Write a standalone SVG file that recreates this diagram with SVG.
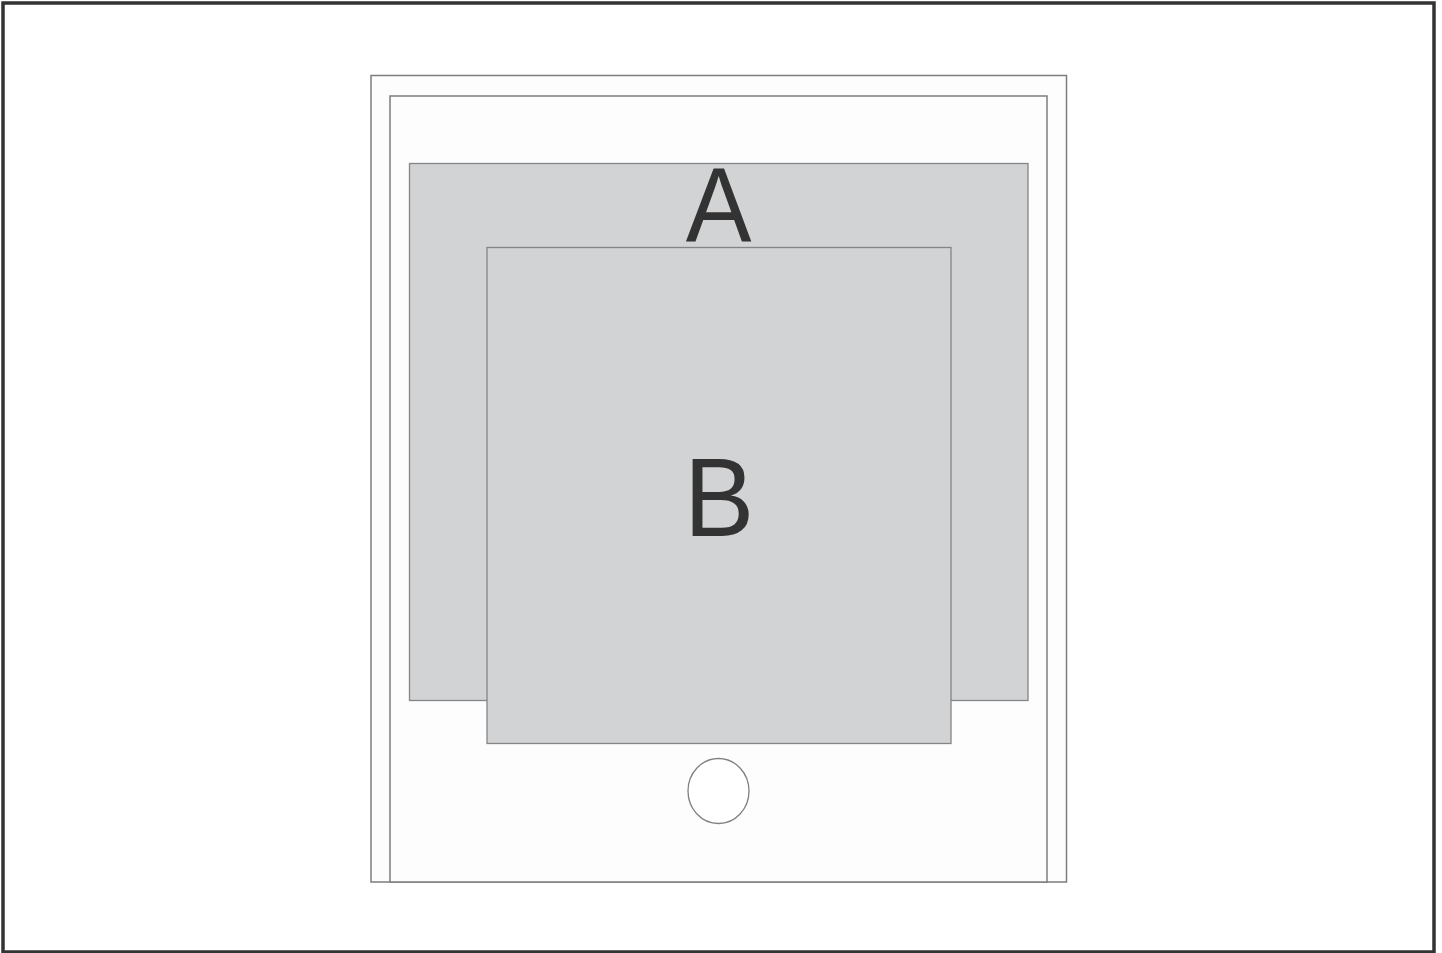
<svg xmlns="http://www.w3.org/2000/svg" width="1442" height="953" viewBox="0 0 1442 953">
<style>
.frame{fill:#fdfdfd;stroke:#7d7d7d;stroke-width:1.5}
.box{fill:#d1d3d4;stroke:#858585;stroke-width:1.3}
.lbl{font-family:"Liberation Sans",Arial,sans-serif;fill:#333333;text-anchor:middle}
</style>
<rect x="0" y="0" width="1442" height="953" fill="#ffffff"/>
<rect x="3" y="3" width="1431" height="949" fill="none" stroke="#333333" stroke-width="3.5"/>
<g id="outer-frame"><rect class="frame" x="371" y="75.5" width="695.5" height="806.5"/></g>
<g id="inner-frame"><rect class="frame" x="390" y="96" width="657" height="786"/></g>
<g id="node-A">
<rect class="box" x="409.5" y="163.5" width="618.5" height="537"/>
<text class="lbl" transform="translate(718.5 241) scale(0.93 1)" x="0" y="0" font-size="106">A</text>
</g>
<g id="node-B">
<rect class="box" x="487" y="247.5" width="464" height="496"/>
<text class="lbl" transform="translate(719 536) scale(0.94 1)" x="0" y="0" font-size="112">B</text>
</g>
<g id="button"><ellipse cx="718.5" cy="791" rx="30.5" ry="32.5" fill="#ffffff" stroke="#808080" stroke-width="1.3"/></g>
<g id="connectors"></g>
</svg>
